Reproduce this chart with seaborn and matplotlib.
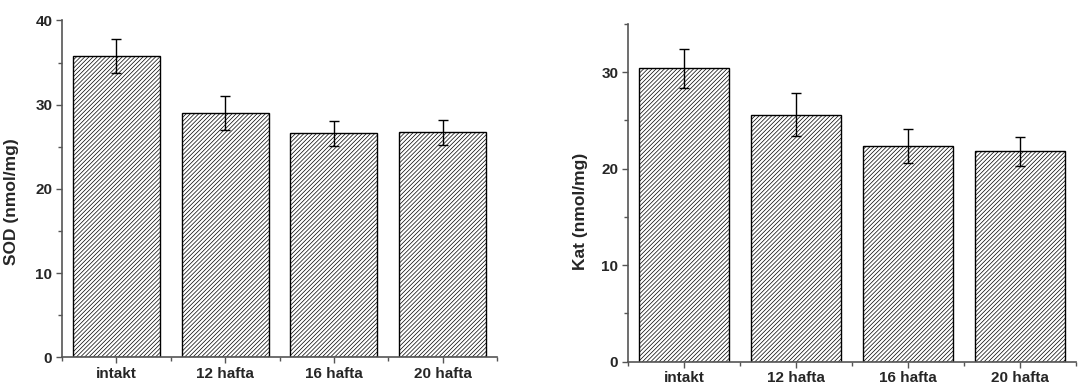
import numpy as np
import pandas as pd
import matplotlib
matplotlib.use("Agg")
import matplotlib.pyplot as plt
from matplotlib.ticker import MultipleLocator, FixedLocator
import seaborn as sns

groups = ["intakt", "12 hafta", "16 hafta", "20 hafta"]
sod_mean = [35.8, 29.0, 26.6, 26.7]
sod_err = [2.0, 2.0, 1.5, 1.5]
kat_mean = [30.4, 25.6, 22.35, 21.8]
kat_err = [2.0, 2.2, 1.8, 1.5]

sns.set_style("ticks")
plt.rcParams["font.family"] = ["Liberation Sans", "DejaVu Sans"]
plt.rcParams["font.weight"] = "bold"
plt.rcParams["hatch.linewidth"] = 0.5

fig = plt.figure(figsize=(10.86, 3.86), dpi=100)
ax1 = fig.add_axes([0.0571, 0.0744, 0.4006, 0.8725])
ax2 = fig.add_axes([0.5783, 0.0630, 0.4125, 0.8749])

panels = [
    (ax1, sod_mean, sod_err, "SOD (nmol/mg)", 40, (-0.100, 0.462)),
    (ax2, kat_mean, kat_err, "Kat (nmol/mg)", 35, (-0.090, 0.446)),
]

axis_col = "#555555"
for ax, means, errs, label, top, lab_xy in panels:
    df = pd.DataFrame({"grup": groups, "deger": means})
    sns.barplot(data=df, x="grup", y="deger", ax=ax, color="white",
                edgecolor="black", linewidth=1.0, width=0.8,
                hatch="////////", errorbar=None, saturation=1)
    centers = [p.get_x() + p.get_width() / 2 for p in ax.patches]
    ax.errorbar(centers, means, yerr=errs, fmt="none", ecolor="black",
                elinewidth=1.0, capsize=3.5, capthick=1.0)

    ax.set_xlim(-0.5, 3.5)
    ax.set_ylim(0, top)
    ax.yaxis.set_major_locator(MultipleLocator(10))
    ax.yaxis.set_minor_locator(MultipleLocator(5))
    ax.xaxis.set_minor_locator(FixedLocator([-0.5, 0.5, 1.5, 2.5, 3.5]))
    ax.tick_params(which="major", direction="out", length=4, width=1,
                   color=axis_col, labelsize=11, pad=3)
    ax.tick_params(which="minor", direction="out", length=3, width=1,
                   color=axis_col)
    for t in ax.get_xticklabels() + ax.get_yticklabels():
        t.set_fontweight("bold")

    sns.despine(ax=ax)
    for s in ["left", "bottom"]:
        ax.spines[s].set_color(axis_col)
        ax.spines[s].set_linewidth(1.2)

    ax.set_xlabel("")
    ax.set_ylabel(label, fontsize=12.5, fontweight="bold")
    ax.yaxis.set_label_coords(*lab_xy)

fig.savefig("out.png", dpi=100)
